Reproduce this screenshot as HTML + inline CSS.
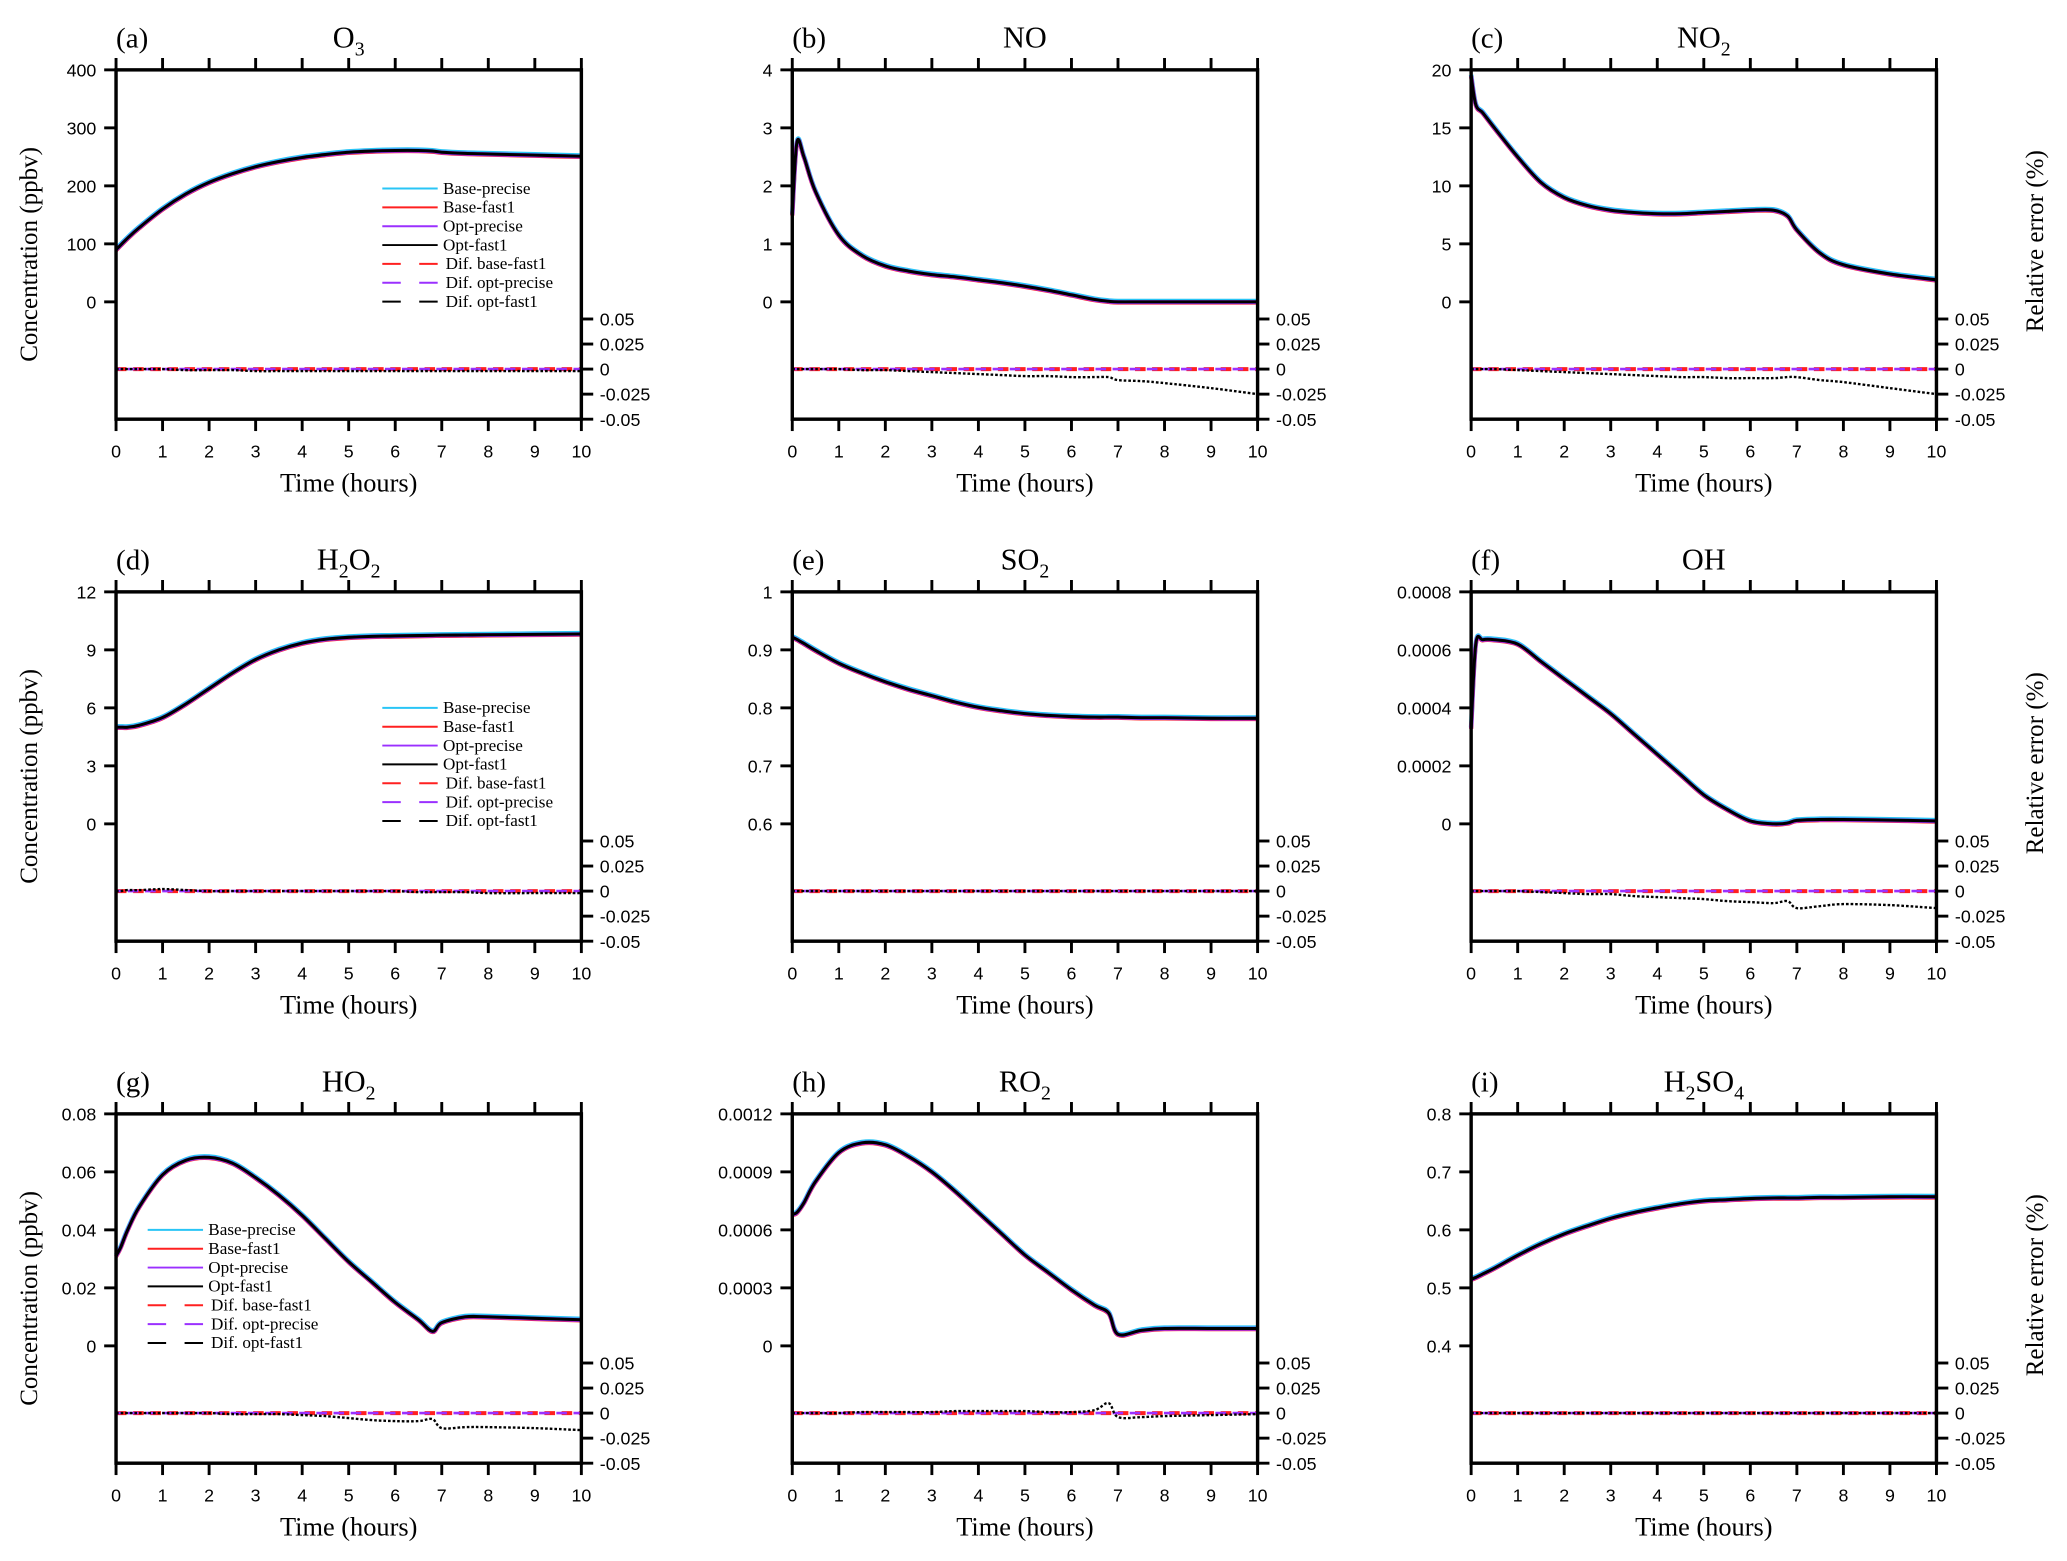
<!DOCTYPE html>
<html><head><meta charset="utf-8"><style>
html,body{margin:0;padding:0;background:#fff;}
svg{display:block;}
.tk{font-family:"Liberation Sans",sans-serif;font-size:13.5px;}
.sf{font-family:"Liberation Serif",serif;}
</style></head><body>
<svg id="fig" width="2067" height="1561" viewBox="0 0 1568 1184.2" xmlns="http://www.w3.org/2000/svg"></svg>
<script>
const times = [0,0.1,0.25,0.5,1,1.5,2,2.5,3,3.5,4,4.5,5,5.5,6,6.5,6.8,7,7.5,8,9,10];
const o3 = [90,98,110,128,160,186,206,221,233,242,249,254,258,260,261,261,260,258,256,255,253,251];
const no = [1.5,2.75,2.5,1.9,1.15,0.8,0.62,0.53,0.47,0.43,0.38,0.33,0.27,0.2,0.12,0.04,0.01,0,0,0,0,0];
const no2 = [19.5,17,16.3,15,12.5,10.3,9,8.3,7.9,7.7,7.6,7.6,7.7,7.8,7.9,7.9,7.4,6.2,4.2,3.2,2.4,1.9];
const h2o2 = [5,5,5,5.1,5.5,6.2,7,7.8,8.5,9.0,9.35,9.55,9.65,9.7,9.72,9.74,9.75,9.76,9.77,9.78,9.8,9.82];
const so2 = [0.922,0.918,0.911,0.899,0.877,0.86,0.845,0.832,0.821,0.81,0.801,0.795,0.79,0.787,0.785,0.784,0.784,0.784,0.783,0.783,0.782,0.782];
const oh = [0.00033,0.00062,0.000635,0.000635,0.00062,0.00056,0.0005,0.00044,0.00038,0.00031,0.00024,0.00017,0.0001,0.00005,0.00001,0,0.000003,0.000012,0.000015,0.000015,0.000013,0.00001];
const ho2 = [0.031,0.034,0.04,0.048,0.059,0.064,0.065,0.063,0.058,0.052,0.045,0.037,0.029,0.022,0.015,0.009,0.005,0.008,0.01,0.01,0.0095,0.009];
const ro2 = [0.00068,0.00069,0.00074,0.00085,0.001,0.00105,0.00104,0.00098,0.0009,0.0008,0.00069,0.00058,0.00047,0.00038,0.00029,0.00021,0.00017,0.00006,0.00008,0.00009,0.00009,0.00009];
const h2so4 = [0.515,0.518,0.524,0.534,0.556,0.576,0.593,0.607,0.62,0.63,0.638,0.645,0.65,0.652,0.654,0.655,0.655,0.655,0.656,0.656,0.657,0.657];
const errA = [0,0,0,0,0,-0.001,-0.001,-0.001,-0.002,-0.002,-0.002,-0.002,-0.002,-0.002,-0.002,-0.002,-0.002,-0.002,-0.002,-0.002,-0.002,-0.002];
const errB = [0,0,0,0,0,-0.001,-0.001,-0.002,-0.003,-0.004,-0.005,-0.006,-0.007,-0.007,-0.008,-0.008,-0.008,-0.011,-0.012,-0.014,-0.019,-0.025];
const errC = [0,0,0,0,-0.001,-0.002,-0.003,-0.004,-0.005,-0.006,-0.007,-0.008,-0.008,-0.009,-0.009,-0.009,-0.008,-0.008,-0.011,-0.013,-0.019,-0.025];
const errD = [0,0,0.001,0.001,0.002,0.001,0,0,0,0,0,0,0,0,0,-0.001,-0.001,-0.001,-0.001,-0.002,-0.002,-0.002];
const errE = [0,0,0,0,0,0,0,0,0,0,0,0,0,0,0,0,0,0,0,0,0,0];
const errF = [0,0,0,0,0,-0.001,-0.002,-0.003,-0.003,-0.005,-0.006,-0.007,-0.008,-0.01,-0.011,-0.012,-0.01,-0.017,-0.015,-0.013,-0.014,-0.017];
const errG = [0,0,0,0,0,0,0,-0.001,-0.001,-0.001,-0.002,-0.003,-0.005,-0.007,-0.008,-0.008,-0.006,-0.015,-0.014,-0.014,-0.015,-0.017];
const errH = [0,0,0,0,0,0.001,0.001,0.001,0.001,0.002,0.002,0.002,0.002,0.001,0.001,0.003,0.01,-0.004,-0.004,-0.003,-0.002,-0.001];
const errI = [0,0,0,0,0,0,0,0,0,0,0,0,0,0,0,0,0,0,0,0,0,0];
const xTicks = [0,1,2,3,4,5,6,7,8,9,10];
const errTicks = [0.05,0.025,0,-0.025,-0.05];
const errTickLabels = ["0.05","0.025","0","-0.025","-0.05"];
const legendLabels = ["Base-precise","Base-fast1","Opt-precise","Opt-fast1","Dif. base-fast1","Dif. opt-precise","Dif. opt-fast1"];

const panels = [
 {id:'a',title:['O','3',''],vals:o3,err:errA,ticks:[0,100,200,300,400],lab:["0","100","200","300","400"],leg:[202,90]},
 {id:'b',title:['NO','',''],vals:no,err:errB,ticks:[0,1,2,3,4],lab:["0","1","2","3","4"]},
 {id:'c',title:['NO','2',''],vals:no2,err:errC,ticks:[0,5,10,15,20],lab:["0","5","10","15","20"]},
 {id:'d',title:['H','2','O','2'],vals:h2o2,err:errD,ticks:[0,3,6,9,12],lab:["0","3","6","9","12"],leg:[202,88]},
 {id:'e',title:['SO','2',''],vals:so2,err:errE,ticks:[0.6,0.7,0.8,0.9,1],lab:["0.6","0.7","0.8","0.9","1"]},
 {id:'f',title:['OH','',''],vals:oh,err:errF,ticks:[0,0.0002,0.0004,0.0006,0.0008],lab:["0","0.0002","0.0004","0.0006","0.0008"]},
 {id:'g',title:['HO','2',''],vals:ho2,err:errG,ticks:[0,0.02,0.04,0.06,0.08],lab:["0","0.02","0.04","0.06","0.08"],leg:[24,88]},
 {id:'h',title:['RO','2',''],vals:ro2,err:errH,ticks:[0,0.0003,0.0006,0.0009,0.0012],lab:["0","0.0003","0.0006","0.0009","0.0012"]},
 {id:'i',title:['H','2','SO','4'],vals:h2so4,err:errI,ticks:[0.4,0.5,0.6,0.7,0.8],lab:["0.4","0.5","0.6","0.7","0.8"]}
];

const NS='http://www.w3.org/2000/svg';
const svg=document.getElementById('fig');
function mk(tag,attrs,parent){const e=document.createElementNS(NS,tag);for(const k in attrs)e.setAttribute(k,attrs[k]);(parent||svg).appendChild(e);return e;}
function smooth(pts){
  let d='M'+pts[0][0].toFixed(2)+','+pts[0][1].toFixed(2);
  for(let i=0;i<pts.length-1;i++){
    const p0=pts[Math.max(0,i-1)],p1=pts[i],p2=pts[i+1],p3=pts[Math.min(pts.length-1,i+2)];
    const c1=[p1[0]+(p2[0]-p0[0])/6,p1[1]+(p2[1]-p0[1])/6];
    const c2=[p2[0]-(p3[0]-p1[0])/6,p2[1]-(p3[1]-p1[1])/6];
    d+=' C'+c1[0].toFixed(2)+','+c1[1].toFixed(2)+' '+c2[0].toFixed(2)+','+c2[1].toFixed(2)+' '+p2[0].toFixed(2)+','+p2[1].toFixed(2);
  }
  return d;
}
const colL=[88,601,1116], rowT=[53,449,845], W=353, H=265;
panels.forEach((p,idx)=>{
  const L=colL[idx%3], T=rowT[Math.floor(idx/3)], R=L+W, B=T+H;
  const g=mk('g',{});
  
  
  const x=t=>L+t/10*W;
  const t0=p.ticks[0], t1=p.ticks[p.ticks.length-1];
  const y=v=>(T+176)-(v-t0)/(t1-t0)*176;
  const ye=v=>(T+227)-v/0.05*38;
  const pts=p.vals.map((v,i)=>[x(times[i]),y(v)]);
  const d=smooth(pts);
  [['#29c5f6',3.5,-0.6],['#ff2020',3.2,0.5],['#9b30ff',3,0.2],['#000',2.3,0]].forEach((c,k)=>{
    const e=mk('path',{d:d,fill:'none',stroke:c[0],'stroke-width':c[1],transform:'translate(0,'+c[2]+')'},g);
    
    
  });
  const zeros=p.err.map((v,i)=>[x(times[i]),ye(0)]);
  const e1=mk('path',{d:smooth(zeros),fill:'none',stroke:'#ff2020','stroke-width':3,'stroke-dasharray':'8 5'},g);
  
  
  const e2=mk('path',{d:smooth(zeros),fill:'none',stroke:'#9b30ff','stroke-width':2,'stroke-dasharray':'8 5','stroke-dashoffset':4},g);
  
  
  const e3=mk('path',{d:smooth(p.err.map((v,i)=>[x(times[i]),ye(v)])),fill:'none',stroke:'#000','stroke-width':1.8,'stroke-dasharray':'2 1.5'},g);
  
  
  const fr=mk('rect',{x:L,y:T,width:W,height:H,fill:'none',stroke:'#000','stroke-width':2.6},g);
  
  
  xTicks.forEach(t=>{
    mk('line',{x1:x(t),x2:x(t),y1:B,y2:B+9,stroke:'#000','stroke-width':2.2},g);
    mk('line',{x1:x(t),x2:x(t),y1:T,y2:T-9,stroke:'#000','stroke-width':2.2},g);
    const tx=mk('text',{x:x(t),y:B+29,'text-anchor':'middle',class:'tk'},g);
    tx.textContent=t;
    
    
  });
  p.ticks.forEach((t,i)=>{
    mk('line',{x1:L-9,x2:L,y1:y(t),y2:y(t),stroke:'#000','stroke-width':2.2},g);
    const tx=mk('text',{x:L-15,y:y(t)+5,'text-anchor':'end',class:'tk'},g);
    tx.textContent=p.lab[i];
    
    
  });
  errTicks.forEach((t,i)=>{
    mk('line',{x1:R,x2:R+9,y1:ye(t),y2:ye(t),stroke:'#000','stroke-width':2.2},g);
    const tx=mk('text',{x:R+14,y:ye(t)+5,class:'tk'},g);
    tx.textContent=errTickLabels[i];
    
    
  });
  const xt=mk('text',{x:L+W/2,y:B+55,'text-anchor':'middle',class:'sf','font-size':20},g);
  xt.textContent='Time (hours)';
  
  
  const pl=mk('text',{x:L,y:T-17,class:'sf','font-size':22},g);
  pl.textContent='('+p.id+')';
  
  
  const tt=mk('text',{x:L+W/2,y:T-17,'text-anchor':'middle',class:'sf','font-size':23},g);
  
  
  for(let k=0;k<p.title.length;k++){
    if(!p.title[k])continue;
    const s=mk('tspan',k%2?{'font-size':15,dy:6}:{dy:(k>0?-6:0)},tt);
    s.textContent=p.title[k];
  }
  if(idx%3===0){
    const yt=mk('text',{transform:'translate('+(L-60)+','+(T+140)+') rotate(-90)','text-anchor':'middle',class:'sf','font-size':19},g);
    yt.textContent='Concentration (ppbv)';
    
    
  }
  if(idx%3===2){
    const yt=mk('text',{transform:'translate('+(R+81)+','+(T+130)+') rotate(-90)','text-anchor':'middle',class:'sf','font-size':19},g);
    yt.textContent='Relative error (%)';
    
    
  }
  if(p.leg){
    const lx=L+p.leg[0], ly=T+p.leg[1];
    const cols=['#29c5f6','#ff2020','#9b30ff','#000','#ff2020','#9b30ff','#000'];
    legendLabels.forEach((lab,i)=>{
      const yy=ly+i*14.3;
      const dash=i>=4;
      const ln=mk('line',{x1:lx,x2:lx+42,y1:yy,y2:yy,stroke:cols[i],'stroke-width':1.5},g);
      if(dash)ln.setAttribute('stroke-dasharray','14 14');
      
      
      const tx=mk('text',{x:lx+(dash?48:46),y:yy+4,class:'sf','font-size':13},g);
      tx.textContent=lab;
      
      
    });
  }
});
</script>
</body></html>
